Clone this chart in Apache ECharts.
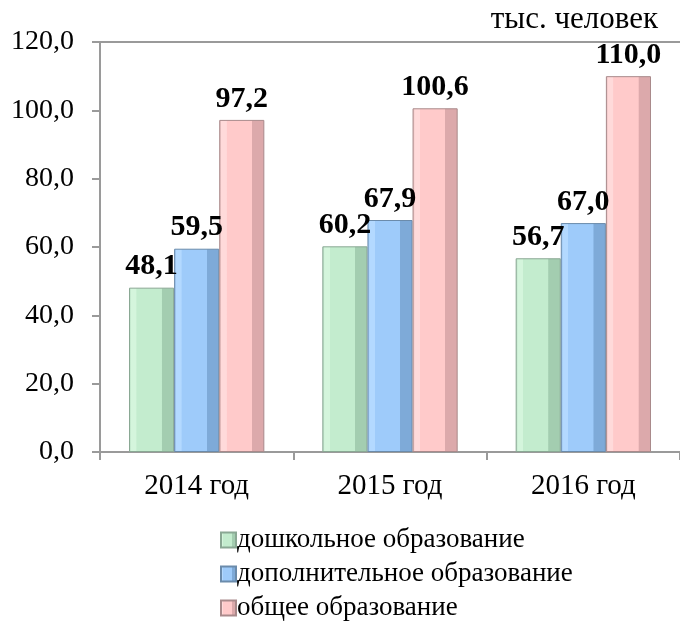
<!DOCTYPE html>
<html>
<head>
<meta charset="utf-8">
<script src="https://cdn.jsdelivr.net/npm/echarts@6/dist/echarts.min.js"></script>
<style>
  html, body { margin: 0; padding: 0; background: #fff; }
  #chart { width: 680px; height: 625px; }
</style>
</head>
<body>
<div id="chart"></div>
<script>
// данные
var years = ['2014 год', '2015 год', '2016 год'];
var seriesNames = ['дошкольное образование', 'дополнительное образование', 'общее образование'];
var preschool = [48.1, 60.2, 56.7];
var additional = [59.5, 67.9, 67.0];
var general = [97.2, 100.6, 110.0];
var yTicks = [0, 20, 40, 60, 80, 100, 120];

var font = '"Liberation Serif", "Times New Roman", serif';

function bevel(edge, light, main, dark) {
  return new echarts.graphic.LinearGradient(0, 0, 1, 0, [
    { offset: 0, color: edge },
    { offset: 0.05, color: light },
    { offset: 0.16, color: light },
    { offset: 0.17, color: main },
    { offset: 0.72, color: main },
    { offset: 0.73, color: dark },
    { offset: 1, color: dark }
  ]);
}

var colors = [
  bevel('#a9d3b5', '#d4f5dc', '#c3ecce', '#a3cdb0'),
  bevel('#84b2e0', '#b3d9ff', '#9ecbfa', '#7eaad8'),
  bevel('#dcaeaf', '#ffdada', '#ffcaca', '#dca9ab')
];
var borders = ['#8aa894', '#6b8bab', '#a98a8b'];
var legendColors = ['#b6e4c2', '#8fbfef', '#f3bcbd'];

function makeSeries(i, data) {
  return {
    name: seriesNames[i],
    type: 'bar',
    data: data,
    barGap: '0%',
    barCategoryGap: '30%',
    itemStyle: { color: colors[i], borderColor: borders[i], borderWidth: 1 },
    label: {
      show: true,
      position: 'top',
      distance: 6,
      fontFamily: font,
      fontSize: 30,
      fontWeight: 'bold',
      color: '#000',
      formatter: function (p) { return p.value.toFixed(1).replace('.', ','); }
    }
  };
}

var myChart = echarts.init(document.getElementById('chart'));
var option = {
  animation: false,
  color: legendColors,
  grid: { left: 100, right: 0, top: 42, bottom: 173, containLabel: false },
  graphic: [
    {
      type: 'text', right: 22, top: 4,
      style: { text: 'тыс. человек', font: '31px ' + font, fill: '#000' }
    },
    {
      type: 'line', shape: { x1: 100, y1: 42, x2: 680, y2: 42 },
      style: { stroke: '#9a9a9a', lineWidth: 2 }
    }
  ],
  legend: {
    orient: 'vertical',
    left: 220,
    top: 526,
    height: 110,
    padding: 0,
    itemGap: 6,
    itemWidth: 15,
    itemHeight: 15,
    icon: 'rect',
    textStyle: { fontFamily: font, fontSize: 27, lineHeight: 28, color: '#000', padding: [0, 0, 0, -4] },
    data: seriesNames
  },
  xAxis: {
    type: 'category',
    data: years,
    axisLine: { lineStyle: { color: '#9a9a9a', width: 2 } },
    axisTick: { show: true, length: 8, lineStyle: { color: '#9a9a9a', width: 2 } },
    axisLabel: { fontFamily: font, fontSize: 29, color: '#000', margin: 20 }
  },
  yAxis: {
    type: 'value',
    min: yTicks[0],
    max: yTicks[yTicks.length - 1],
    interval: 20,
    splitLine: { show: false },
    axisLine: { show: true, lineStyle: { color: '#9a9a9a', width: 2 } },
    axisTick: { show: true, length: 8, lineStyle: { color: '#9a9a9a', width: 2 } },
    axisLabel: {
      fontFamily: font, fontSize: 28, color: '#000', margin: 26,
      formatter: function (v) { return v.toFixed(1).replace('.', ','); }
    }
  },
  series: [
    makeSeries(0, preschool),
    makeSeries(1, additional),
    makeSeries(2, general)
  ]
};
myChart.setOption(option);
</script>
</body>
</html>
